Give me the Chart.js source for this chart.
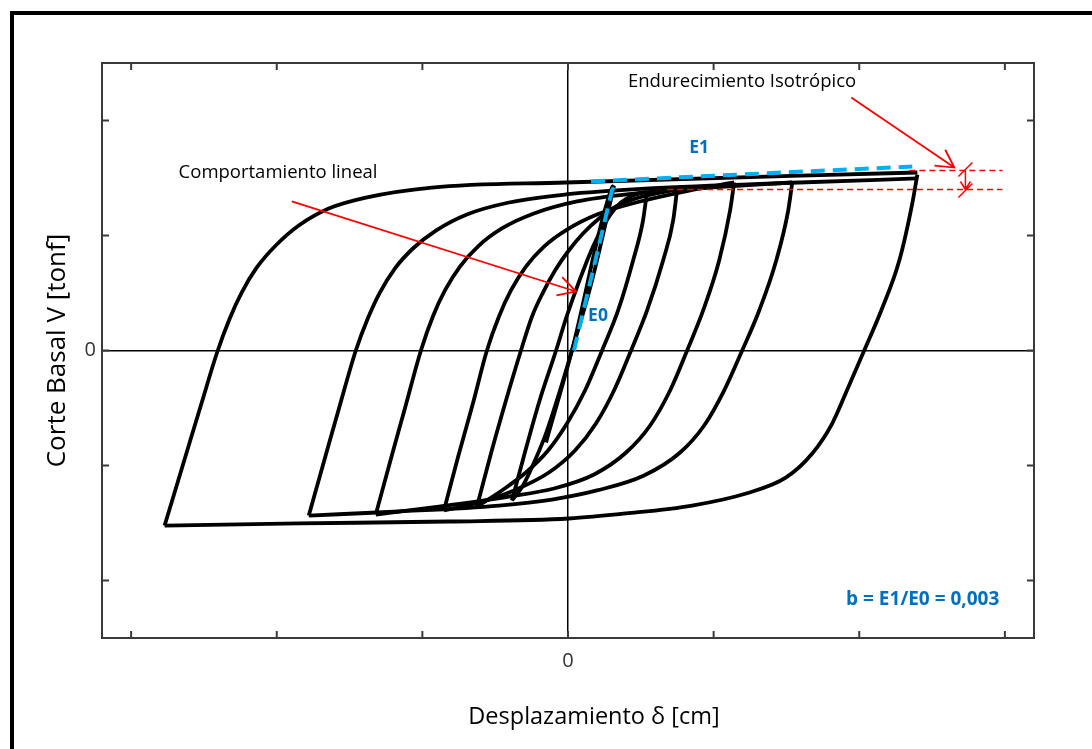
<!DOCTYPE html>
<html><head><meta charset="utf-8">
<script src="https://cdn.jsdelivr.net/npm/chart.js@4.4.0/dist/chart.umd.min.js"></script>
<style>html,body{margin:0;padding:0;background:#fff;overflow:hidden}
#wrap{position:absolute;left:0;top:0;width:1092px;height:749px}</style>
</head><body><div id="wrap"><canvas id="c" width="1092" height="749"></canvas></div>
<script>
// ---- axis ticks ----
const xTickValues = [-3, -2, -1, 0, 1, 2, 3];
const xTickLabels = ['', '', '', '0', '', '', ''];
const yTickValues = [-2, -1, 0, 1, 2];
const yTickLabels = ['', '', '0', '', ''];

// ---- hysteresis branches [displacement, shear] ----
const initialLoad = [[-0.151,-0.800],[0.027,0],[0.302,1.417],[0.316,1.435]];
const unload1 = [[0.316,1.435],[0.247,1.043],[0.165,0.609],[0.089,0.261],[0.027,0],[-0.055,-0.348],[-0.144,-0.696],[-0.227,-0.957],[-0.309,-1.174],[-0.385,-1.304]];
const reload1 = [[-0.385,-1.304],[-0.296,-0.887],[-0.199,-0.452],[-0.082,0],[-0.014,0.278],[0.048,0.504],[0.110,0.713],[0.172,0.904],[0.234,1.061],[0.296,1.191],[0.364,1.287],[0.447,1.348],[0.543,1.383]];
const unload2 = [[0.543,1.383],[0.515,1.130],[0.447,0.783],[0.344,0.348],[0.234,0],[0.117,-0.348],[-0.007,-0.635],[-0.137,-0.870],[-0.289,-1.061],[-0.454,-1.217],[-0.625,-1.357]];
const reload2 = [[-0.625,-1.357],[-0.529,-0.896],[-0.426,-0.435],[-0.323,0],[-0.247,0.296],[-0.172,0.504],[-0.089,0.696],[0,0.861],[0.103,1.017],[0.213,1.148],[0.330,1.252],[0.488,1.330],[0.749,1.400]];
const unload3 = [[0.749,1.400],[0.722,1.130],[0.653,0.783],[0.543,0.348],[0.433,0],[0.316,-0.348],[0.192,-0.635],[0.048,-0.870],[-0.131,-1.061],[-0.371,-1.217],[-0.612,-1.322],[-0.852,-1.391]];
const reload3 = [[-0.852,-1.391],[-0.756,-0.930],[-0.653,-0.461],[-0.557,0],[-0.474,0.296],[-0.392,0.522],[-0.289,0.730],[-0.165,0.904],[-0.007,1.052],[0.199,1.183],[0.467,1.287],[0.832,1.391],[1.141,1.461]];
const unload4 = [[1.141,1.461],[1.113,1.217],[1.038,0.783],[0.928,0.348],[0.818,0],[0.701,-0.348],[0.564,-0.652],[0.399,-0.887],[0.179,-1.078],[-0.096,-1.200],[-0.405,-1.270],[-0.887,-1.357],[-1.320,-1.426]];
const reload4 = [[-1.320,-1.426],[-1.223,-0.974],[-1.120,-0.504],[-1.010,0],[-0.928,0.296],[-0.845,0.522],[-0.742,0.730],[-0.619,0.904],[-0.454,1.061],[-0.234,1.191],[0.062,1.296],[0.454,1.365],[0.969,1.417],[1.540,1.461]];
const unload5 = [[1.540,1.461],[1.512,1.217],[1.430,0.783],[1.313,0.348],[1.196,0],[1.072,-0.348],[0.935,-0.652],[0.770,-0.887],[0.522,-1.087],[0.199,-1.217],[-0.110,-1.296],[-0.474,-1.348],[-1.162,-1.400],[-1.780,-1.435]];
const reload5 = [[-1.780,-1.435],[-1.670,-0.939],[-1.567,-0.478],[-1.457,0],[-1.375,0.278],[-1.292,0.504],[-1.189,0.713],[-1.065,0.887],[-0.907,1.043],[-0.694,1.183],[-0.405,1.287],[-0.014,1.357],[0.557,1.409],[1.588,1.461],[2.399,1.496]];
const unload6 = [[2.399,1.530],[2.364,1.278],[2.275,0.783],[2.151,0.348],[2.034,0],[1.924,-0.322],[1.814,-0.635],[1.677,-0.896],[1.498,-1.104],[1.223,-1.243],[0.852,-1.348],[0.399,-1.417],[0.007,-1.461],[-0.818,-1.487],[-1.849,-1.504],[-2.770,-1.522]];
const reload6 = [[-2.770,-1.522],[-2.625,-0.913],[-2.515,-0.452],[-2.412,-0.026],[-2.323,0.278],[-2.241,0.504],[-2.137,0.722],[-2.007,0.913],[-1.849,1.087],[-1.643,1.235],[-1.388,1.330],[-0.935,1.417],[-0.014,1.461],[2.399,1.548]];

// ---- stiffness reference lines ----
const lineE0 = [[0.041,0],[0.302,1.391],[0.330,1.461]];
const lineE1 = [[0.158,1.470],[2.364,1.600]];
// ---- isotropic hardening levels ----
const levelUpper = [[2.344,1.565],[2.983,1.565]];
const levelLower = [[0.680,1.400],[2.983,1.400]];

const branches = [initialLoad, unload1, reload1, unload2, reload2, unload3, reload3, unload4, reload4, unload5, reload5, unload6, reload6];
const FONT = '"Open Sans", "Liberation Sans", sans-serif';
const pts = a => a.map(p => ({x: p[0], y: p[1]}));

const datasets = [];
branches.forEach(b => datasets.push({data: pts(b), borderColor: '#000', borderWidth: 3.8, cubicInterpolationMode: 'monotone', order: 3}));
datasets.push({data: pts(levelUpper), borderColor: '#ff0000', borderWidth: 1.6, borderDash: [6, 4], order: 2});
datasets.push({data: pts(levelLower), borderColor: '#ff0000', borderWidth: 1.6, borderDash: [6, 4], order: 2});
datasets.push({data: pts(lineE0), borderColor: '#00b0f0', borderWidth: 4, borderDash: [14, 8], order: 1});
datasets.push({data: pts(lineE1), borderColor: '#00b0f0', borderWidth: 4, borderDash: [14, 8], order: 1});
datasets.forEach(d => { d.showLine = true; d.pointRadius = 0; d.fill = false; });

// ---- annotations (data units) ----
const notes = [
  {text: 'Comportamiento lineal', x: -2.674, y: 1.548, align: 'left', color: '#000', font: '18.5px ' + FONT},
  {text: 'Endurecimiento Isotrópico', x: 0.412, y: 2.339, align: 'left', color: '#000', font: '18.5px ' + FONT},
  {text: 'E1', x: 0.900, y: 1.757, align: 'center', color: '#0070c0', font: 'bold 17.5px ' + FONT},
  {text: 'E0', x: 0.206, y: 0.296, align: 'center', color: '#0070c0', font: 'bold 17.5px ' + FONT},
  {text: 'b = E1/E0 = 0,003', x: 2.962, y: -2.165, align: 'right', color: '#0070c0', font: 'bold 19px ' + FONT}
];
const arrows = [
  {from: [-1.897, 1.296], to: [0.055, 0.513]},
  {from: [1.945, 2.200], to: [2.653, 1.591]}
];
const hardeningMark = {x: 2.729, top: 1.565, bottom: 1.400};

const overlay = {
  id: 'overlay',
  afterDraw(chart) {
    const {ctx, chartArea: a, scales: {x: sx, y: sy}} = chart;
    const X = v => sx.getPixelForValue(v), Y = v => sy.getPixelForValue(v);
    ctx.save();
    // plot frame
    ctx.strokeStyle = '#3a3a3a'; ctx.lineWidth = 2;
    ctx.strokeRect(a.left, a.top, a.right - a.left, a.bottom - a.top);
    // inward ticks
    ctx.beginPath();
    sx.ticks.forEach(t => { const p = X(t.value); ctx.moveTo(p, a.bottom); ctx.lineTo(p, a.bottom - 7); ctx.moveTo(p, a.top); ctx.lineTo(p, a.top + 7); });
    sy.ticks.forEach(t => { const p = Y(t.value); ctx.moveTo(a.left, p); ctx.lineTo(a.left + 7, p); ctx.moveTo(a.right, p); ctx.lineTo(a.right - 7, p); });
    ctx.stroke();
    // outer page frame
    ctx.strokeStyle = '#000'; ctx.lineWidth = 4;
    ctx.beginPath(); ctx.moveTo(12, 760); ctx.lineTo(12, 13); ctx.lineTo(1100, 13); ctx.stroke();
    // red arrows
    ctx.strokeStyle = '#ff0000'; ctx.lineWidth = 1.8;
    arrows.forEach(ar => {
      const x0 = X(ar.from[0]), y0 = Y(ar.from[1]), x1 = X(ar.to[0]), y1 = Y(ar.to[1]);
      const ang = Math.atan2(y1 - y0, x1 - x0), L = 20, s = 0.5;
      ctx.beginPath(); ctx.moveTo(x0, y0); ctx.lineTo(x1, y1);
      ctx.moveTo(x1 - L * Math.cos(ang - s), y1 - L * Math.sin(ang - s)); ctx.lineTo(x1, y1);
      ctx.lineTo(x1 - L * Math.cos(ang + s), y1 - L * Math.sin(ang + s));
      ctx.stroke();
    });
    // hardening dimension mark
    const mx = X(hardeningMark.x), mt = Y(hardeningMark.top), mb = Y(hardeningMark.bottom);
    ctx.lineWidth = 1.5;
    ctx.beginPath();
    ctx.moveTo(mx, mt); ctx.lineTo(mx, mb);
    ctx.moveTo(mx + 7, mt - 8); ctx.lineTo(mx - 7, mt + 6);
    ctx.moveTo(mx + 7, mb - 6); ctx.lineTo(mx - 7, mb + 8);
    ctx.moveTo(mx - 5, mb - 8); ctx.lineTo(mx, mb); ctx.lineTo(mx + 5, mb - 8);
    ctx.stroke();
    // text notes
    ctx.textBaseline = 'middle';
    notes.forEach(n => { ctx.font = n.font; ctx.fillStyle = n.color; ctx.textAlign = n.align; ctx.fillText(n.text, X(n.x), Y(n.y)); });
    // x-axis title
    ctx.font = '23.5px ' + FONT; ctx.fillStyle = '#000'; ctx.textAlign = 'center';
    ctx.fillText('Desplazamiento \u03B4 [cm]', (a.left + a.right) / 2 + 26, a.bottom + 79);
    ctx.restore();
  }
};

new Chart(document.getElementById('c'), {
  type: 'scatter',
  data: {datasets},
  options: {
    responsive: false, animation: false, devicePixelRatio: 1,
    layout: {padding: {left: 0, top: 63, right: 58, bottom: 0}},
    plugins: {legend: {display: false}, tooltip: {enabled: false}},
    scales: {
      x: {
        type: 'linear', min: -3.2, max: 3.2,
        afterBuildTicks: s => { s.ticks = xTickValues.map(v => ({value: v})); },
        afterFit: s => { s.height = 111; },
        ticks: {callback: (v, i) => xTickLabels[i] || '', font: {family: FONT, size: 20}, color: '#333', padding: 11, maxRotation: 0, autoSkip: false},
        grid: {drawTicks: false, lineWidth: 1.5, color: c => (c.tick && c.tick.value === 0) ? '#000' : 'rgba(0,0,0,0)'},
        border: {display: false}
      },
      y: {
        type: 'linear', min: -2.5, max: 2.5,
        afterBuildTicks: s => { s.ticks = yTickValues.map(v => ({value: v})); },
        afterFit: s => { s.width = 102; },
        ticks: {callback: (v, i) => yTickLabels[i] || '', font: {family: FONT, size: 20}, color: '#333', padding: 6, autoSkip: false},
        grid: {drawTicks: false, lineWidth: 1.5, color: c => (c.tick && c.tick.value === 0) ? '#000' : 'rgba(0,0,0,0)'},
        border: {display: false},
        title: {display: true, text: 'Corte Basal V [tonf]', font: {family: FONT, size: 26}, color: '#000', padding: {top: 42, bottom: 0}}
      }
    }
  },
  plugins: [overlay]
});
</script></body></html>
